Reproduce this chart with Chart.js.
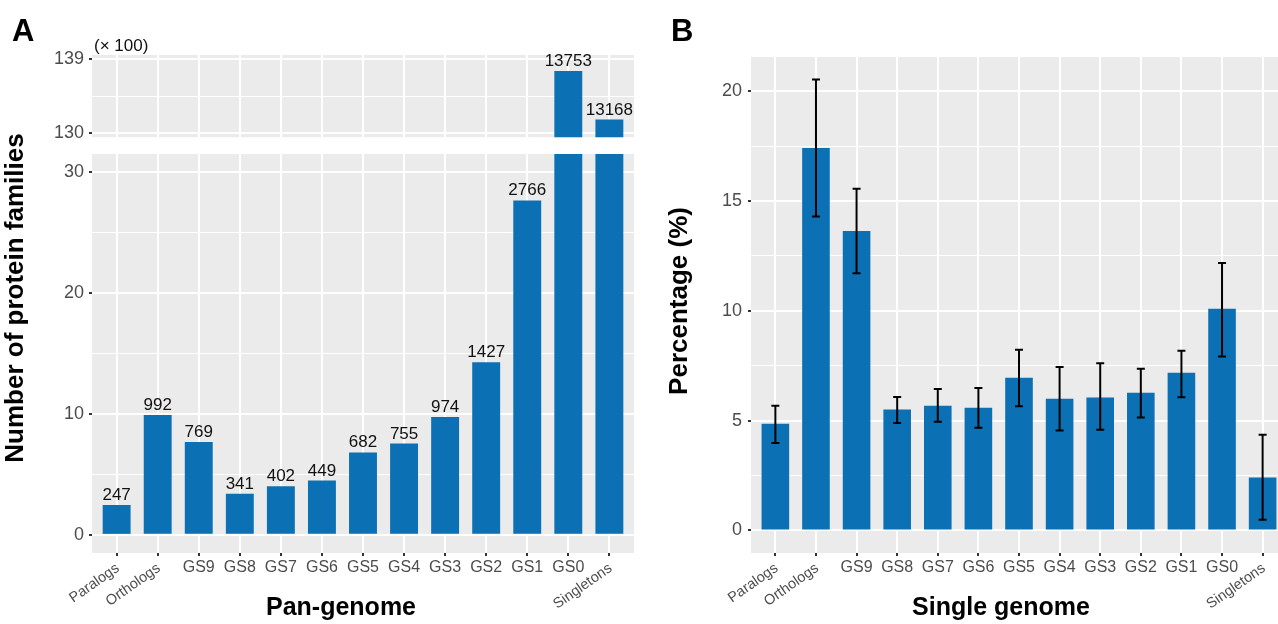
<!DOCTYPE html>
<html>
<head>
<meta charset="utf-8">
<script src="https://cdn.jsdelivr.net/npm/chart.js@4.4.1/dist/chart.umd.min.js"></script>
<style>
  html, body { margin: 0; padding: 0; background: #fff; width: 1278px; height: 624px; overflow: hidden; }
  canvas { position: absolute; top: 0; }
  #panelALow, #panelAHigh { left: 0; }
  #panelB { left: 640px; }
</style>
</head>
<body>
<canvas id="panelALow" width="640" height="624"></canvas>
<canvas id="panelAHigh" width="640" height="153"></canvas>
<canvas id="panelB" width="660" height="624"></canvas>
<script>
// categories shared by both panels
const categories = ['Paralogs', 'Orthologs', 'GS9', 'GS8', 'GS7', 'GS6', 'GS5', 'GS4', 'GS3', 'GS2', 'GS1', 'GS0', 'Singletons'];
const tiltedLabels = ['Paralogs', 'Orthologs', 'Singletons'];

// panel A: number of protein families (pan-genome)
const panFamilies = [247, 992, 769, 341, 402, 449, 682, 755, 974, 1427, 2766, 13753, 13168];
const panLowTicks = [0, 10, 20, 30];     // x 100
const panHighTicks = [130, 139];         // x 100

// panel B: percentage per single genome, with error bar ends
const singlePct  = [4.86, 17.41, 13.64, 5.50, 5.68, 5.59, 6.95, 6.00, 6.05, 6.27, 7.18, 10.09, 2.41];
const singleLow  = [3.98, 14.29, 11.71, 4.89, 4.95, 4.68, 5.65, 4.55, 4.58, 5.14, 6.06, 7.92, 0.48];
const singleHigh = [5.68, 20.53, 15.56, 6.08, 6.44, 6.48, 8.23, 7.44, 7.61, 7.36, 8.18, 12.18, 4.36];
const pctTicks = [0, 5, 10, 15, 20];

const FONT = '"Liberation Sans", Arial, Helvetica, sans-serif';
const BAR_BLUE = '#0C71B4';
const TICK_GREY = '#4D4D4D';

function withMinor(majors) {
  const out = [];
  majors.forEach((v, i) => {
    out.push(v);
    if (i < majors.length - 1) out.push((v + majors[i + 1]) / 2);
  });
  return out;
}

function yAxis(min, max, majors, width, pad) {
  return {
    type: 'linear', min: min, max: max,
    afterBuildTicks: s => { s.ticks = withMinor(majors).map(v => ({ value: v })); },
    afterFit: s => { s.width = width; },
    border: { display: false },
    grid: {
      color: '#FFFFFF',
      lineWidth: c => majors.includes(c.tick.value) ? 2 : 1,
      tickColor: c => majors.includes(c.tick.value) ? '#333333' : 'rgba(0,0,0,0)',
      tickLength: 3,
      tickWidth: 2
    },
    ticks: {
      color: TICK_GREY, font: { family: FONT, size: 18 }, padding: pad,
      callback: v => majors.includes(v) ? String(v) : ''
    }
  };
}

function xAxis(showLabels, height) {
  return {
    type: 'linear', min: -0.6, max: categories.length - 0.4,
    offset: false,
    afterBuildTicks: s => { s.ticks = categories.map((c, i) => ({ value: i })); },
    afterFit: s => { s.height = height; },
    border: { display: false },
    grid: { offset: false, color: '#FFFFFF', lineWidth: 2, tickColor: '#333333', tickLength: 3, tickWidth: 2, drawTicks: showLabels },
    ticks: {
      display: showLabels, autoSkip: false, maxRotation: 0, minRotation: 0,
      color: TICK_GREY, font: { family: FONT, size: 16 }, padding: 2,
      callback: v => tiltedLabels.includes(categories[v]) ? '' : categories[v]
    }
  };
}

const panelBg = {
  id: 'panelBg',
  beforeDraw(chart) {
    const a = chart.chartArea;
    const ctx = chart.ctx;
    ctx.save();
    ctx.fillStyle = '#EBEBEB';
    ctx.fillRect(a.left, a.top, a.right - a.left, a.bottom - a.top);
    ctx.restore();
  }
};

function makeBarValues(raw) {
  return {
    id: 'barValues',
    afterDatasetsDraw(chart) {
      const ctx = chart.ctx;
      const y = chart.scales.y;
      ctx.save();
      ctx.font = '17px ' + FONT;
      ctx.fillStyle = '#111111';
      ctx.textAlign = 'center';
      ctx.textBaseline = 'alphabetic';
      chart.getDatasetMeta(0).data.forEach((bar, i) => {
        const v = raw[i] / 100;
        if (v < y.min || v > y.max) return;
        ctx.fillText(String(raw[i]), bar.x, bar.y - 5);
      });
      ctx.restore();
    }
  };
}

function makeErrorBars(low, high) {
  return {
    id: 'errorBars',
    afterDatasetsDraw(chart) {
      const ctx = chart.ctx;
      const y = chart.scales.y;
      ctx.save();
      ctx.strokeStyle = '#000000';
      ctx.lineWidth = 2;
      chart.getDatasetMeta(0).data.forEach((bar, i) => {
        const top = y.getPixelForValue(high[i]);
        const bot = y.getPixelForValue(low[i]);
        ctx.beginPath();
        ctx.moveTo(bar.x, top); ctx.lineTo(bar.x, bot);
        ctx.moveTo(bar.x - 4, top); ctx.lineTo(bar.x + 4, top);
        ctx.moveTo(bar.x - 4, bot); ctx.lineTo(bar.x + 4, bot);
        ctx.stroke();
      });
      ctx.restore();
    }
  };
}

const tiltedTicks = {
  id: 'tiltedTicks',
  afterDraw(chart) {
    const x = chart.scales.x;
    if (!x.options.ticks.display) return;
    const ctx = chart.ctx;
    ctx.save();
    ctx.font = '14.5px ' + FONT;
    ctx.fillStyle = TICK_GREY;
    ctx.textAlign = 'right';
    ctx.textBaseline = 'top';
    categories.forEach((c, i) => {
      if (!tiltedLabels.includes(c)) return;
      ctx.save();
      ctx.translate(x.getPixelForValue(i) - 3, chart.chartArea.bottom + 8);
      ctx.rotate(-35 * Math.PI / 180);
      ctx.fillText(c, 0, 0);
      ctx.restore();
    });
    ctx.restore();
  }
};

function makeTexts(items) {
  return {
    id: 'staticText',
    afterDraw(chart) {
      const ctx = chart.ctx;
      items.forEach(t => {
        ctx.save();
        ctx.font = t.font;
        ctx.fillStyle = t.color || '#000000';
        ctx.textAlign = t.align || 'center';
        ctx.textBaseline = t.baseline || 'middle';
        ctx.translate(t.x, t.y);
        if (t.rot) ctx.rotate(t.rot * Math.PI / 180);
        ctx.fillText(t.text, 0, 0);
        ctx.restore();
      });
    }
  };
}

function barDataset(values) {
  return {
    data: values.map((v, i) => ({ x: i, y: v })),
    backgroundColor: BAR_BLUE,
    borderWidth: 0,
    barPercentage: 0.68,
    categoryPercentage: 1,
    clip: 0
  };
}

const baseOptions = {
  responsive: false,
  animation: false,
  events: [],
  plugins: { legend: { display: false }, tooltip: { enabled: false } }
};

// panel A, lower part (0 - 30, x 100)
new Chart(document.getElementById('panelALow'), {
  type: 'bar',
  data: { datasets: [barDataset(panFamilies.map(n => n / 100))] },
  options: Object.assign({}, baseOptions, {
    layout: { padding: { top: 154, right: 6, bottom: 0, left: 0 } },
    scales: { x: xAxis(true, 71), y: yAxis(-1.5, 31.5, panLowTicks, 92, 5) }
  }),
  plugins: [panelBg, makeBarValues(panFamilies), tiltedTicks, makeTexts([
    { text: 'A', x: 12, y: 41, font: 'bold 31px ' + FONT, align: 'left', baseline: 'alphabetic' },
    { text: '(\u00d7 100)', x: 94, y: 51, font: '17px ' + FONT, align: 'left', baseline: 'alphabetic', color: '#111111' },
    { text: 'Number of protein families', x: 16, y: 298, font: 'bold 26px ' + FONT, rot: -90 },
    { text: 'Pan-genome', x: 341, y: 608, font: 'bold 25px ' + FONT }
  ])]
});

// panel A, upper part (130 - 139, x 100)
new Chart(document.getElementById('panelAHigh'), {
  type: 'bar',
  data: { datasets: [barDataset(panFamilies.map(n => n / 100))] },
  options: Object.assign({}, baseOptions, {
    layout: { padding: { top: 55, right: 6, bottom: 3, left: 0 } },
    scales: { x: xAxis(false, 0), y: yAxis(129.55, 139.45, panHighTicks, 92, 5) }
  }),
  plugins: [panelBg, makeBarValues(panFamilies)]
});

// panel B
new Chart(document.getElementById('panelB'), {
  type: 'bar',
  data: { datasets: [barDataset(singlePct)] },
  options: Object.assign({}, baseOptions, {
    layout: { padding: { top: 57, right: 13, bottom: 0, left: 0 } },
    scales: { x: xAxis(true, 71), y: yAxis(-1.03, 21.56, pctTicks, 111, 6) }
  }),
  plugins: [panelBg, makeErrorBars(singleLow, singleHigh), tiltedTicks, makeTexts([
    { text: 'B', x: 31, y: 41, font: 'bold 31px ' + FONT, align: 'left', baseline: 'alphabetic' },
    { text: 'Percentage (%)', x: 40, y: 301, font: 'bold 26px ' + FONT, rot: -90 },
    { text: 'Single genome', x: 361, y: 608, font: 'bold 25px ' + FONT }
  ])]
});
</script>
</body>
</html>
